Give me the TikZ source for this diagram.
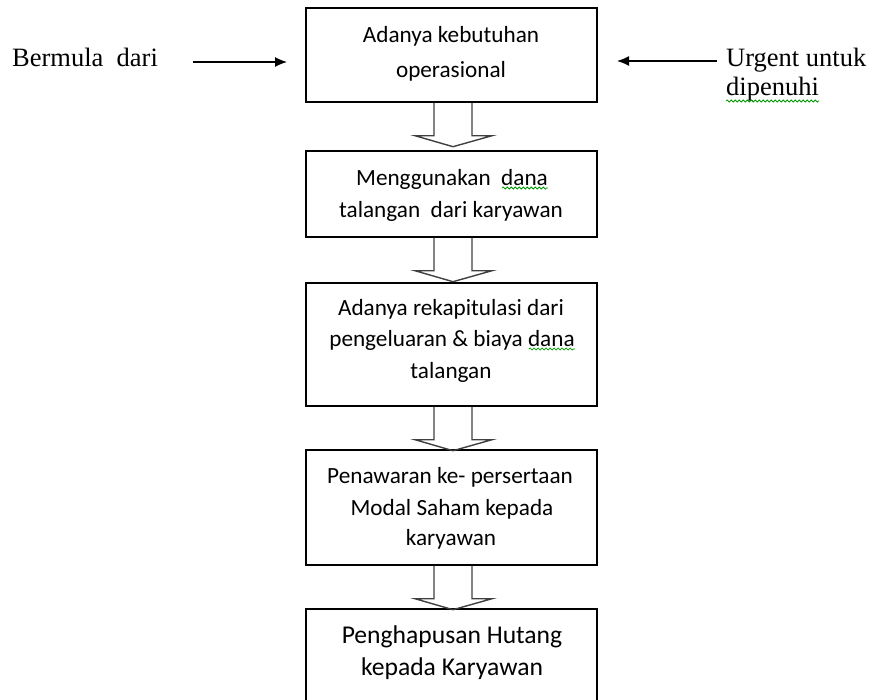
\documentclass[tikz,border=0pt]{standalone}
\usepackage{fontspec}
\setmainfont{Carlito}
\newfontfamily\serifside{Liberation Serif}
\usetikzlibrary{arrows.meta,calc,decorations.pathmorphing}
\newcommand\blockarrow[1]{%
  \draw[blk] ($(#1.south)+(-17.5,0)$) -- ($(#1.south)+(-17.5,33)$) -- ($(#1.south)+(-36.5,33)$) -- ($(#1.south)+(1.5,44)$) -- ($(#1.south)+(40.5,33)$) -- ($(#1.south)+(20.5,33)$) -- ($(#1.south)+(20.5,0)$);}
\begin{document}
\begin{tikzpicture}[x=1pt,y=-1pt,
  box/.style={draw=black,line width=1.4pt,minimum width=291pt,inner sep=0pt},
  ln/.style={anchor=base,inner sep=0pt,font=\fontsize{23.2}{27}\selectfont},
  lnb/.style={anchor=base,inner sep=0pt,font=\fontsize{25.6}{30}\selectfont},
  side/.style={anchor=base west,inner sep=0pt,font=\serifside\fontsize{26.5}{30}\selectfont},
  blk/.style={draw=black!75,line width=1.4pt,line join=miter},
  sidearrow/.style={line width=1.3pt,-{Latex[length=12pt,width=10pt]}},
  squig/.style={draw=green!60!black,line width=0.8pt,decorate,decoration={snake,segment length=4pt,amplitude=1pt}}]
\useasboundingbox (0,0) rectangle (877,699);
\clip (0,0) rectangle (877,699);
% boxes
\node[box,minimum height=94pt]  (b1) at (451.5,55) {};
\node[box,minimum height=86pt]  (b2) at (451.5,194) {};
\node[box,minimum height=123pt] (b3) at (451.5,344.5) {};
\node[box,minimum height=115pt] (b4) at (451.5,507.5) {};
\node[box,minimum height=111pt] (b5) at (451.5,664.5) {};
% block arrows
\blockarrow{b1}
\blockarrow{b2}
\blockarrow{b3}
\blockarrow{b4}
% box texts
\node[ln] (t1a) at (451,42) {Adanya kebutuhan};
\node[ln] (t1b) at (451,77) {operasional};
\node[ln] (t2a) at (452,185) {Menggunakan\ \ dana};
\node[ln] (t2b) at (451,217) {talangan\ \ dari karyawan};
\node[ln] (t3a) at (451,315) {Adanya rekapitulasi dari};
\node[ln] (t3b) at (452,346) {pengeluaran \& biaya dana};
\node[ln] (t3c) at (451,378) {talangan};
\node[ln] (t4a) at (450,483) {Penawaran ke- persertaan};
\node[ln] (t4b) at (452,515) {Modal Saham kepada};
\node[ln] (t4c) at (451,545) {karyawan};
\node[lnb] (t5a) at (452,643) {Penghapusan Hutang};
\node[lnb] (t5b) at (452,675) {kepada Karyawan};
% side texts
\node[side] (lt) at (12,66) {Bermula\ \ dari};
\node[side] (rt1) at (726,66) {Urgent untuk};
\node[side] (rt2) at (726,95) {dipenuhi};
% side arrows
\coordinate (lA) at (193,62);
\coordinate (lB) at (287,62);
\coordinate (rA) at (717,61);
\coordinate (rB) at (617,61);
\draw[sidearrow] (lA) -- (lB);
\draw[sidearrow] (rA) -- (rB);
% spelling squiggles
\draw[squig] ($(t2a.base east)+(-46,3)$) -- ($(t2a.base east)+(0,3)$);
\draw[squig] ($(t3b.base east)+(-46,3)$) -- ($(t3b.base east)+(0,3)$);
\draw[squig] ($(rt2.base west)+(0,6)$) -- ($(rt2.base east)+(0,6)$);
\end{tikzpicture}
\end{document}
